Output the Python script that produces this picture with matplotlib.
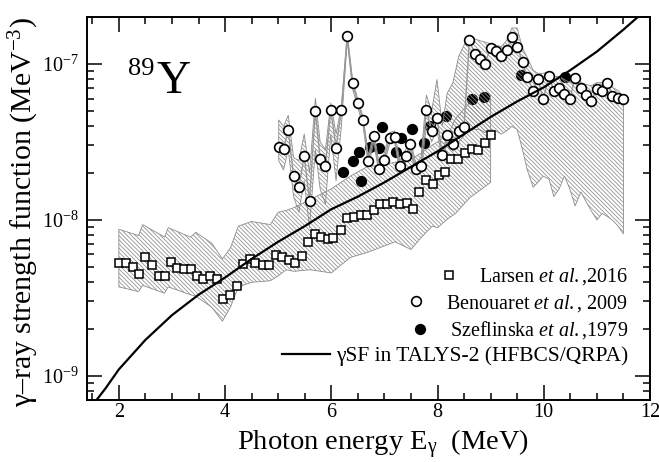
"""gamma-ray strength function of 89Y: Oslo data, photoabsorption data and TALYS-2 curve."""
import matplotlib
matplotlib.use("Agg")
import matplotlib.pyplot as plt
from matplotlib.ticker import MultipleLocator, NullFormatter

plt.rcParams.update({
    "font.family": ["Liberation Serif", "DejaVu Serif"],
    "mathtext.fontset": "custom",
    "mathtext.rm": "Liberation Serif",
    "mathtext.it": "Liberation Serif:italic",
    "mathtext.bf": "Liberation Serif:bold",
    "hatch.linewidth": 0.55,
})

# --- Larsen et al., 2016 (Oslo method) ---
larsen_E = [2.00, 2.13, 2.26, 2.37, 2.50, 2.62, 2.75, 2.86, 2.99, 3.10, 3.23, 3.35,
            3.48, 3.59, 3.72, 3.84, 3.97, 4.09, 4.22, 4.33, 4.46, 4.57, 4.71, 4.82,
            4.95, 5.08, 5.20, 5.31, 5.44, 5.57, 5.69, 5.81, 5.93, 6.04, 6.18, 6.29,
            6.42, 6.55, 6.67, 6.80, 6.91, 7.04, 7.16, 7.29, 7.42, 7.53, 7.65, 7.78,
            7.91, 8.02, 8.15, 8.26, 8.38, 8.51, 8.64, 8.76, 8.89, 9.01]
larsen_f = [5.27e-9, 5.27e-9, 4.98e-9, 4.51e-9, 5.77e-9, 5.15e-9, 4.34e-9, 4.34e-9,
            5.36e-9, 4.94e-9, 4.85e-9, 4.85e-9, 4.34e-9, 4.19e-9, 4.34e-9, 4.19e-9,
            3.12e-9, 3.30e-9, 3.78e-9, 5.22e-9, 5.60e-9, 5.33e-9, 5.12e-9, 5.12e-9,
            5.94e-9, 5.77e-9, 5.55e-9, 5.33e-9, 5.90e-9, 7.19e-9, 8.13e-9, 7.74e-9,
            7.55e-9, 7.67e-9, 8.63e-9, 1.03e-8, 1.05e-8, 1.08e-8, 1.08e-8, 1.16e-8,
            1.27e-8, 1.27e-8, 1.30e-8, 1.27e-8, 1.29e-8, 1.18e-8, 1.51e-8, 1.80e-8,
            1.70e-8, 1.93e-8, 2.03e-8, 2.45e-8, 2.47e-8, 2.70e-8, 2.84e-8, 2.81e-8,
            3.13e-8, 3.51e-8]

# Larsen uncertainty band
larsen_band_E = [2.00, 2.37, 2.45, 2.86, 2.93, 3.35, 3.45, 3.75, 3.95, 4.10, 4.25, 4.50,
                 4.85, 5.00, 5.15, 5.30, 5.60, 6.00, 6.36, 6.67, 6.90, 7.20, 7.50, 7.70,
                 7.90, 8.00, 8.20, 8.34, 8.60, 9.00]
larsen_band_hi = [8.71e-9, 7.94e-9, 9.33e-9, 7.76e-9, 8.91e-9, 7.76e-9, 8.32e-9, 7.08e-9,
                  5.62e-9, 6.61e-9, 9.12e-9, 9.77e-9, 9.33e-9, 1.12e-8, 1.15e-8, 1.20e-8,
                  1.35e-8, 1.58e-8, 1.91e-8, 2.19e-8, 2.24e-8, 2.34e-8, 2.45e-8, 2.69e-8,
                  3.02e-8, 3.16e-8, 3.55e-8, 4.47e-8, 5.62e-8, 6.31e-8]
larsen_band_lo = [3.72e-9, 3.47e-9, 3.80e-9, 3.39e-9, 3.72e-9, 3.31e-9, 3.24e-9, 2.75e-9,
                  2.24e-9, 2.75e-9, 3.72e-9, 3.98e-9, 4.07e-9, 4.37e-9, 4.79e-9, 4.68e-9,
                  4.79e-9, 4.57e-9, 5.75e-9, 6.17e-9, 6.61e-9, 7.24e-9, 6.46e-9, 7.76e-9,
                  9.12e-9, 8.91e-9, 1.02e-8, 1.10e-8, 1.38e-8, 1.74e-8]

# --- Benouaret et al., 2009 (photoabsorption) ---
benou_E = [5.01, 5.10, 5.19, 5.29, 5.39, 5.49, 5.59, 5.70, 5.79, 5.89, 5.99, 6.09,
           6.19, 6.30, 6.40, 6.50, 6.60, 6.70, 6.80, 6.90, 6.99, 7.10, 7.19, 7.29,
           7.40, 7.49, 7.59, 7.69, 7.79, 7.89, 7.99, 8.09, 8.18, 8.29, 8.40, 8.50,
           8.60, 8.70, 8.80, 8.89, 9.00, 9.10, 9.20, 9.30, 9.40, 9.50, 9.60, 9.69,
           9.80, 9.89, 9.99, 10.10, 10.19, 10.29, 10.39, 10.49, 10.59, 10.70, 10.79,
           10.89, 11.00, 11.10, 11.20, 11.29, 11.40, 11.50]
benou_f = [2.95e-8, 2.84e-8, 3.78e-8, 1.90e-8, 1.62e-8, 2.58e-8, 1.32e-8, 5.02e-8,
           2.46e-8, 2.23e-8, 5.07e-8, 2.91e-8, 5.07e-8, 1.52e-7, 7.52e-8, 5.60e-8,
           4.34e-8, 2.40e-8, 3.45e-8, 2.11e-8, 2.43e-8, 3.34e-8, 3.42e-8, 2.20e-8,
           2.57e-8, 3.05e-8, 2.11e-8, 2.23e-8, 5.07e-8, 3.74e-8, 4.49e-8, 2.62e-8,
           3.51e-8, 3.06e-8, 3.74e-8, 3.96e-8, 1.43e-7, 1.15e-7, 1.08e-7, 1.00e-7,
           1.27e-7, 1.21e-7, 1.13e-7, 1.23e-7, 1.48e-7, 1.29e-7, 1.03e-7, 8.22e-8,
           6.75e-8, 7.98e-8, 5.94e-8, 8.38e-8, 6.71e-8, 6.98e-8, 6.43e-8, 5.94e-8,
           8.17e-8, 6.98e-8, 6.32e-8, 5.82e-8, 6.89e-8, 6.71e-8, 7.52e-8, 6.24e-8,
           6.08e-8, 5.94e-8]
benou_hi = [4.37e-8, 3.98e-8, 4.68e-8, 2.51e-8, 2.40e-8, 3.55e-8, 2.00e-8, 6.03e-8,
            3.16e-8, 2.82e-8, 5.62e-8, 3.55e-8, 5.37e-8, 1.55e-7, 7.94e-8, 5.89e-8,
            4.57e-8, 2.57e-8, 3.72e-8, 2.29e-8, 2.63e-8, 3.63e-8, 3.72e-8, 2.40e-8,
            2.82e-8, 3.31e-8, 2.29e-8, 2.51e-8, 6.31e-8, 5.01e-8, 7.94e-8, 3.98e-8,
            6.46e-8, 7.59e-8, 1.12e-7, 1.32e-7, 1.51e-7, 1.45e-7, 1.41e-7, 1.38e-7,
            1.35e-7, 1.32e-7, 1.29e-7, 1.41e-7, 1.70e-7, 1.70e-7, 1.26e-7, 1.10e-7,
            9.12e-8, 8.71e-8, 8.71e-8, 8.91e-8, 8.32e-8, 8.32e-8, 7.94e-8, 7.59e-8,
            8.71e-8, 7.59e-8, 7.41e-8, 7.24e-8, 7.59e-8, 7.59e-8, 7.94e-8, 7.08e-8,
            6.76e-8, 6.17e-8]
benou_lo = [2.40e-8, 2.09e-8, 2.82e-8, 1.41e-8, 1.12e-8, 1.78e-8, 8.91e-9, 2.82e-8,
            1.58e-8, 1.26e-8, 3.55e-8, 1.78e-8, 3.98e-8, 1.41e-7, 6.92e-8, 5.25e-8,
            3.98e-8, 2.19e-8, 3.16e-8, 1.95e-8, 2.24e-8, 3.09e-8, 3.16e-8, 2.00e-8,
            2.34e-8, 2.82e-8, 1.95e-8, 2.00e-8, 3.98e-8, 3.16e-8, 3.80e-8, 2.40e-8,
            3.16e-8, 2.75e-8, 3.16e-8, 3.47e-8, 3.80e-8, 3.80e-8, 3.80e-8, 3.63e-8,
            3.80e-8, 3.72e-8, 3.55e-8, 3.72e-8, 3.98e-8, 3.80e-8, 2.82e-8, 2.09e-8,
            1.62e-8, 1.74e-8, 1.91e-8, 1.82e-8, 1.41e-8, 1.58e-8, 1.91e-8, 1.58e-8,
            1.23e-8, 1.51e-8, 1.32e-8, 1.15e-8, 1.00e-8, 1.10e-8, 1.05e-8, 1.00e-8,
            9.12e-9, 8.13e-9]

# --- Szeflinska et al., 1979 ---
szef_E = [6.22, 6.40, 6.52, 6.55, 6.72, 6.89, 6.96, 7.22, 7.32, 7.51, 7.75, 7.86,
          8.16, 8.65, 8.87, 9.58, 10.40]
szef_f = [2.02e-8, 2.40e-8, 2.74e-8, 1.78e-8, 2.95e-8, 2.91e-8, 3.93e-8, 2.74e-8,
          3.34e-8, 3.85e-8, 3.13e-8, 3.98e-8, 4.67e-8, 5.94e-8, 6.11e-8, 8.49e-8,
          8.22e-8]

# --- TALYS-2 HFBCS/QRPA gamma strength ---
talys_E = [1.5, 1.75, 2.0, 2.5, 3.0, 3.5, 4.0, 4.5, 5.0, 5.5, 6.0, 6.5, 7.0, 7.5,
           8.0, 8.5, 9.0, 9.5, 10.0, 10.5, 11.0, 11.5, 12.0]
talys_f = [6.46e-10, 8.32e-10, 1.10e-9, 1.70e-9, 2.45e-9, 3.31e-9, 4.27e-9, 5.62e-9,
           7.24e-9, 9.12e-9, 1.17e-8, 1.41e-8, 1.74e-8, 2.19e-8, 2.75e-8, 3.55e-8,
           4.57e-8, 5.75e-8, 7.08e-8, 9.12e-8, 1.20e-7, 1.66e-7, 2.34e-7]

BAND_GRAY = "#8c8c8c"
HATCH = "\\" * 8

fig = plt.figure(figsize=(6.59, 4.62), dpi=100)
ax = fig.add_axes([0.132, 0.1342, 0.8543, 0.829])
ax.set_yscale("log")

ax.fill_between(larsen_band_E, larsen_band_lo, larsen_band_hi, facecolor="none",
                edgecolor=BAND_GRAY, hatch=HATCH, linewidth=0.6, zorder=1)
fc, = ax.plot(szef_E, szef_f, "o", ms=7, mfc="black", mec="black", mew=1.1, zorder=2)
ax.fill_between(benou_E, benou_lo, benou_hi, facecolor="none",
                edgecolor=BAND_GRAY, hatch=HATCH, linewidth=0.6, zorder=3)
ax.plot(benou_E, benou_f, "-", color="#999999", lw=1.0, zorder=3.5)
oc, = ax.plot(benou_E, benou_f, "o", ms=7, mfc="white", mec="black", mew=1.2, zorder=4)
sq, = ax.plot(larsen_E, larsen_f, "s", ms=5.8, mfc="white", mec="black", mew=1.1, zorder=5)
ln, = ax.plot(talys_E, talys_f, "-", color="black", lw=1.6, zorder=6)

ax.set_xlim(1.4, 12)
ax.set_ylim(7e-10, 2e-7)
ax.xaxis.set_major_locator(MultipleLocator(2))
ax.xaxis.set_minor_locator(MultipleLocator(0.5))
ax.yaxis.set_minor_formatter(NullFormatter())
ax.tick_params(which="both", direction="in", top=True, right=True, width=1.1)
ax.tick_params(which="major", length=11, labelsize=14.5)
ax.tick_params(which="minor", length=5)
ax.tick_params(axis="x", pad=2)
ax.tick_params(axis="y", pad=6)
for s in ax.spines.values():
    s.set_linewidth(1.4)

ax.set_xlabel(r"Photon energy E$_{\mathrm{\gamma}}$  (MeV)", fontsize=20.5)
ax.set_ylabel(r"γ–ray strength function (MeV$^{-3}$)", fontsize=21.5)
ax.xaxis.set_label_coords(0.526, -0.072)
ax.yaxis.set_label_coords(-0.082, 0.49)

ax.text(0.073, 0.849, "89", fontsize=19, transform=ax.transAxes, va="baseline")
ax.text(0.124, 0.8016, "Y", fontsize=34, transform=ax.transAxes, va="baseline")

leg = ax.legend(
    [sq, oc, fc, ln],
    [r"Larsen $\mathit{et\ al.}$,2016",
     r"Benouaret $\mathit{et\ al.}$, 2009",
     r"Szeflinska $\mathit{et\ al.}$,1979",
     "γSF in TALYS-2 (HFBCS/QRPA)"],
    loc="lower right", bbox_to_anchor=(0.962, 0.088), frameon=False, fontsize=14.5,
    handlelength=2.4, handletextpad=0.3, labelspacing=0.27,
    borderaxespad=0, borderpad=0,
)
leg.get_texts()[3].set_fontsize(15.5)
# right-align the rows so each marker sits just left of its text
leg._legend_handle_box.get_children()[0].align = "right"

fig.savefig("out.png", dpi=100)
